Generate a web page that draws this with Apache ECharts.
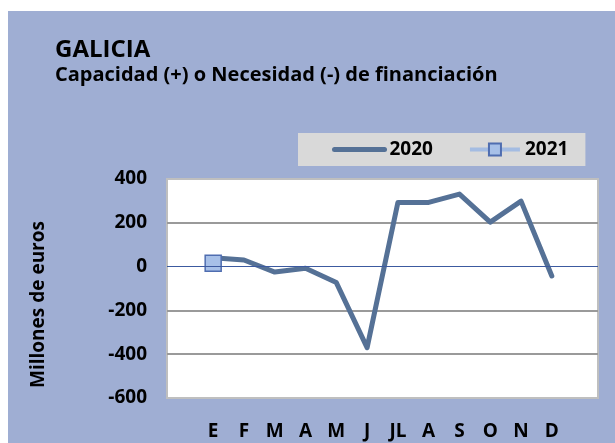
<!DOCTYPE html>
<html lang="es">
<head>
  <meta charset="UTF-8">
  <title>Galicia</title>
  <style>
    html, body { margin: 0; padding: 0; background: #fff; }
  </style>
</head>
<body>
  <div id="chart" style="width: 615px; height: 443px;"></div>
  <script src="https://cdn.jsdelivr.net/npm/echarts@6/dist/echarts.min.js"></script>
  <script>
    // Data (millones de euros)
    const months = ["E", "F", "M", "A", "M", "J", "JL", "A", "S", "O", "N", "D"];
    const values2020 = [40, 30, -25, -8, -73, -370, 293, 293, 331, 203, 299, -43];
    const values2021 = [15];
    const yTicks = [-600, -400, -200, 0, 200, 400];

    // the original axis leaves one empty slot on each side
    const cats = ["", ...months, ""];
    const pad = arr => {
      const out = ["-"];
      for (let i = 0; i < months.length; i++) out.push(i < arr.length ? arr[i] : "-");
      out.push("-");
      return out;
    };

    const font = "Open Sans";
    const chart = echarts.init(document.getElementById("chart"), null, { renderer: "canvas" });

    chart.setOption({
      backgroundColor: "#ffffff",
      animation: false,
      graphic: [
        {
          type: "rect", z: -10, silent: true,
          shape: { x: 8, y: 11, width: 620, height: 440 },
          style: { fill: "#9faed3" }
        }
      ],
      title: {
        text: "GALICIA",
        subtext: "Capacidad (+) o Necesidad (-) de financiación",
        left: 55, top: 38, padding: 0, itemGap: 3,
        textStyle: { fontFamily: font, fontWeight: "bold", fontSize: 24, color: "#000" },
        subtextStyle: { fontFamily: font, fontWeight: "bold", fontSize: 20, color: "#000" }
      },
      legend: {
        data: [
          { name: "2020", itemStyle: { opacity: 0 }, lineStyle: { width: 5 } },
          { name: "2021", lineStyle: { width: 4 } }
        ],
        left: 298, top: 133,
        padding: [7, 17, 7, 34],
        backgroundColor: "#d9d9d9",
        itemWidth: 50, itemHeight: 15, itemGap: 35,
        textStyle: { fontFamily: font, fontWeight: "bold", fontSize: 19, color: "#000" }
      },
      grid: {
        left: 167, right: 17, top: 179, bottom: 45,
        show: true, backgroundColor: "#ffffff",
        borderColor: "#bfbfbf", borderWidth: 2
      },
      xAxis: {
        type: "category",
        data: cats,
        boundaryGap: true,
        axisLine: { show: false },
        axisTick: { show: false },
        axisLabel: {
          interval: 0, margin: 24,
          fontFamily: font, fontWeight: "bold", fontSize: 19, color: "#000"
        }
      },
      yAxis: {
        type: "value",
        min: yTicks[0], max: yTicks[yTicks.length - 1], interval: 200,
        name: "Millones de euros",
        nameLocation: "middle", nameGap: 119, nameRotate: 90,
        nameTextStyle: {
          fontFamily: font, fontWeight: "bold", fontSize: 19, color: "#000",
          padding: [0, 32, 0, 0]
        },
        axisLine: { show: false },
        axisTick: { show: false },
        axisLabel: { margin: 20, fontFamily: font, fontWeight: "bold", fontSize: 19, color: "#000" },
        splitLine: {
          lineStyle: {
            width: 2,
            color: ["transparent", "#9a9a9a", "#9a9a9a", "transparent", "#9a9a9a", "transparent"]
          }
        }
      },
      series: [
        {
          name: "2021",
          type: "line",
          data: pad(values2021),
          z: 3,
          symbol: "rect", symbolSize: 16,
          lineStyle: { color: "#a4bce2", width: 4 },
          itemStyle: { color: "#a7c0e8", borderColor: "#4f6db0", borderWidth: 1.5 },
          markLine: {
            silent: true, symbol: "none", label: { show: false },
            lineStyle: { color: "#3c5aa0", width: 1, type: "solid" },
            data: [{ yAxis: 0 }]
          }
        },
        {
          name: "2020",
          type: "line",
          data: pad(values2020),
          z: 2,
          symbol: "none",
          lineStyle: { color: "#557196", width: 5, cap: "round", join: "round" },
          itemStyle: { color: "#557196" }
        }
      ]
    });
  </script>
</body>
</html>
